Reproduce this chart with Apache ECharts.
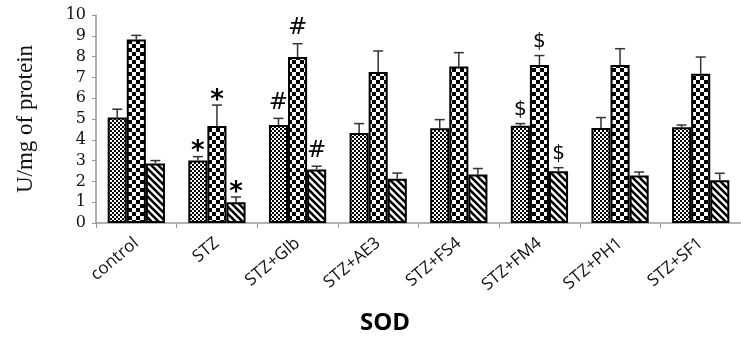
<!DOCTYPE html>
<html>
<head>
<meta charset="utf-8">
<script src="https://cdn.jsdelivr.net/npm/echarts@6/dist/echarts.min.js"></script>
<style>
  html, body { margin: 0; padding: 0; background: #fff; }
  #chart { width: 741px; height: 337px; }
</style>
</head>
<body>
<div id="chart"></div>
<script>
// Treatment groups
const categories = ['control', 'STZ', 'STZ+Glb', 'STZ+AE3', 'STZ+FS4', 'STZ+FM4', 'STZ+PH1', 'STZ+SF1'];

// Mean SOD activity (U/mg of protein) for the three bars of each group
const seriesA = [5.07, 3.00, 4.71, 4.33, 4.55, 4.68, 4.57, 4.60];
const seriesB = [8.82, 4.66, 7.98, 7.26, 7.52, 7.60, 7.60, 7.18];
const seriesC = [2.86, 1.00, 2.57, 2.13, 2.33, 2.49, 2.28, 2.05];

// Upper error (SE) for each bar
const errorA = [0.40, 0.19, 0.32, 0.45, 0.42, 0.10, 0.50, 0.11];
const errorB = [0.20, 1.01, 0.64, 1.01, 0.67, 0.45, 0.78, 0.80];
const errorC = [0.14, 0.25, 0.16, 0.27, 0.29, 0.17, 0.17, 0.34];

// Significance markers drawn above the error bars
const marksA = ['', '*', '#', '', '', '$', '', ''];
const marksB = ['', '*', '#', '', '', '$', '', ''];
const marksC = ['', '*', '#', '', '', '$', '', ''];

// Y axis ticks
const yTicks = [0, 1, 2, 3, 4, 5, 6, 7, 8, 9, 10];

const CAT_GAP = 0.29;

function makeTile(size, draw) {
  const c = document.createElement('canvas');
  c.width = size; c.height = size;
  const ctx = c.getContext('2d');
  ctx.fillStyle = '#fff';
  ctx.fillRect(0, 0, size, size);
  ctx.fillStyle = '#000';
  ctx.strokeStyle = '#000';
  draw(ctx, size);
  return c;
}

// fine checkerboard
const fineCheck = makeTile(4, (ctx) => {
  ctx.fillRect(0, 0, 2, 2);
  ctx.fillRect(2, 2, 2, 2);
});
// coarse checkerboard
const coarseCheck = makeTile(8, (ctx) => {
  ctx.fillRect(0, 0, 4, 4);
  ctx.fillRect(4, 4, 4, 4);
});
// backslash diagonal stripes
const stripes = makeTile(7, (ctx, s) => {
  ctx.lineWidth = 2.6;
  ctx.beginPath();
  ctx.moveTo(-1, -1); ctx.lineTo(s + 1, s + 1);
  ctx.moveTo(-1 - s, -1); ctx.lineTo(1, s + 1);
  ctx.moveTo(s - 1, -1); ctx.lineTo(2 * s + 1, s + 1);
  ctx.stroke();
});

const chart = echarts.init(document.getElementById('chart'), null, { renderer: 'canvas' });

const barStyle = (img) => ({
  color: { image: img, repeat: 'repeat' },
  borderColor: '#000',
  borderWidth: 2
});

const markFonts = {
  '*': 'bold 26px "DejaVu Sans"',
  '#': '23px "DejaVu Sans"',
  '$': '20px "DejaVu Sans"'
};
const markLift = { '*': -9, '#': 4, '$': 4 };

function errorSeries(values, errors, marks, slot) {
  return {
    type: 'custom',
    z: 5,
    data: values.map((v, i) => [i, v, errors[i]]),
    renderItem: function (params, api) {
      const i = api.value(0);
      const v = api.value(1);
      const e = api.value(2);
      const mark = marks[i];
      const catW = api.size([1, 0])[0];
      const bw = catW * (1 - CAT_GAP) / 3;
      const center = api.coord([i, 0])[0] + (slot - 1) * bw;
      const yTop = api.coord([i, v + e])[1];
      const yBar = api.coord([i, v])[1];
      const cap = 5;
      const children = [
        { type: 'line', shape: { x1: center, y1: yBar, x2: center, y2: yTop }, style: { stroke: '#333', lineWidth: 1.5 } },
        { type: 'line', shape: { x1: center - cap, y1: yTop, x2: center + cap, y2: yTop }, style: { stroke: '#333', lineWidth: 1.5 } }
      ];
      if (mark) {
        children.push({
          type: 'text',
          style: {
            text: mark,
            x: center,
            y: yTop - markLift[mark],
            align: 'center',
            verticalAlign: 'bottom',
            fill: '#000',
            font: markFonts[mark]
          }
        });
      }
      return { type: 'group', children: children };
    }
  };
}

chart.setOption({
  animation: false,
  title: {
    text: 'SOD',
    left: 380,
    top: 306,
    textAlign: 'center',
    textStyle: { fontFamily: '"Open Sans"', fontWeight: 'bold', fontSize: 24, color: '#000' }
  },
  grid: { left: 96, right: 0, top: 15, bottom: 114, containLabel: false },
  xAxis: {
    type: 'category',
    data: categories,
    axisLine: { lineStyle: { color: '#999', width: 1.5 } },
    axisTick: { show: true, length: 5, lineStyle: { color: '#999' } },
    axisLabel: {
      rotate: 40,
      margin: 18,
      fontFamily: '"Open Sans"',
      fontSize: 17,
      color: '#111'
    }
  },
  yAxis: {
    type: 'value',
    min: yTicks[0],
    max: yTicks[yTicks.length - 1],
    interval: 1,
    name: 'U/mg of protein',
    nameLocation: 'middle',
    nameGap: 59,
    nameTextStyle: { fontFamily: '"Liberation Serif"', fontSize: 23, color: '#111' },
    axisLine: { show: true, lineStyle: { color: '#999', width: 1.5 } },
    axisTick: { show: true, length: 4, lineStyle: { color: '#999' } },
    splitLine: { show: false },
    axisLabel: {
      margin: 10,
      fontFamily: '"DejaVu Serif"',
      fontSize: 16,
      color: '#111'
    }
  },
  series: [
    { name: 'A', type: 'bar', data: seriesA, barGap: '0%', barCategoryGap: (CAT_GAP * 100) + '%', itemStyle: barStyle(fineCheck) },
    { name: 'B', type: 'bar', data: seriesB, barGap: '0%', barCategoryGap: (CAT_GAP * 100) + '%', itemStyle: barStyle(coarseCheck) },
    { name: 'C', type: 'bar', data: seriesC, barGap: '0%', barCategoryGap: (CAT_GAP * 100) + '%', itemStyle: barStyle(stripes) },
    errorSeries(seriesA, errorA, marksA, 0),
    errorSeries(seriesB, errorB, marksB, 1),
    errorSeries(seriesC, errorC, marksC, 2)
  ]
});
</script>
</body>
</html>
